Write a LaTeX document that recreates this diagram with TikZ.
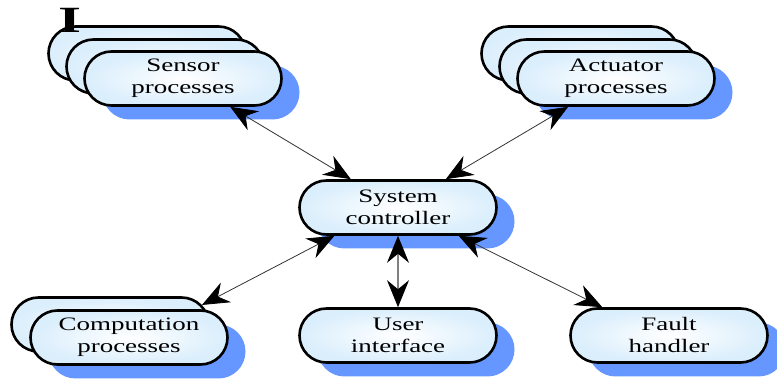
\documentclass[tikz,border=0pt]{standalone}
\usepackage{fontspec}
\setmainfont{Liberation Serif}
\newfontfamily\lblfont[FakeStretch=1.42]{Liberation Serif}
\usetikzlibrary{shapes.misc,arrows.meta,shadows}
\definecolor{shadowblue}{RGB}{102,150,255}
\definecolor{procfill}{RGB}{218,238,252}

\tikzset{
  proc/.style={rounded rectangle, draw=black, line width=2.6pt,
    minimum width=197pt, minimum height=54pt, inner sep=0pt,
    inner color=white, outer color=procfill, align=center,
    font=\lblfont\fontsize{19}{22}\selectfont},
  procsh/.style={proc, general shadow={shadow xshift=18pt, shadow yshift=-14pt, fill=shadowblue}},
  tip/.tip={Stealth[length=27pt,width=22pt,inset=9pt,color=black]},
  conn/.style={draw=black!80, line width=0.8pt, tip-tip},
  vconn/.style={conn, draw=black!50, line width=1.2pt},
}

\begin{document}
\begin{tikzpicture}[x=1pt,y=-1pt]
\useasboundingbox (0,0) rectangle (777,379);

% sensor stack
\node[proc] (sens3) at (147,53.5) {};
\node[proc] (sens2) at (165,66.5) {};
\node[procsh] (sens1) at (183,78.5) {Sensor\\processes};

% actuator stack
\node[proc] (act3) at (580,53.5) {};
\node[proc] (act2) at (598,66.5) {};
\node[procsh] (act1) at (616,78.5) {Actuator\\processes};

% controller
\node[procsh] (sys) at (398,207.5) {System\\controller};

% computation stack
\node[proc] (comp2) at (110,324.5) {};
\node[procsh] (comp1) at (129,337.5) {Computation\\processes};

% single processes
\node[procsh] (user) at (398,335.5) {User\\interface};
\node[procsh] (fault) at (669,335.5) {Fault\\handler};

% connectors
\draw[conn] (sens1) -- (sys);
\draw[conn] (act1) -- (sys);
\draw[conn] (comp2.12) -- (sys.204);
\draw[vconn] (sys.south) -- (user.north);
\draw[conn] (sys.-25) -- (fault.157);

% stray glyph
\node[font=\bfseries\fontsize{37}{37}\selectfont, inner sep=0pt, xscale=1.6] (glyph) at (70,20) {I};
\end{tikzpicture}
\end{document}
